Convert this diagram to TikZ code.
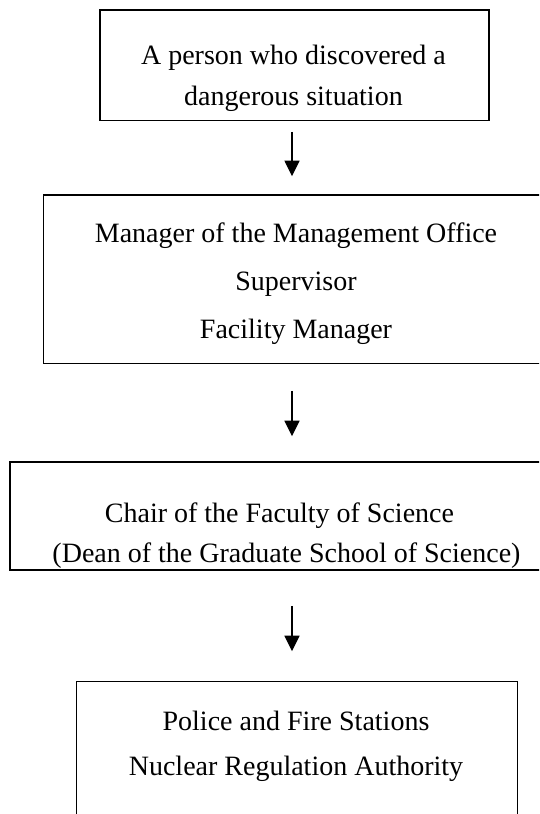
\documentclass[tikz,border=0pt]{standalone}
\usepackage{fontspec}
\setmainfont{Liberation Serif}
\usetikzlibrary{arrows.meta}
\begin{document}
\begin{tikzpicture}[x=1pt, y=-1pt,
  frame/.style={draw=black, line width=1.6pt, rectangle, inner sep=0pt},
  boxtext/.style={align=center, inner sep=0pt, anchor=base,
                  font=\fontsize{28}{#1}\selectfont},
  flow/.style={draw=black, line width=1.3pt,
               -{Triangle[width=15pt, length=15.5pt]}}]
\useasboundingbox (0,0) rectangle (539,814);
\fill[white] (0,0) rectangle (539,814);
\clip (0,0) rectangle (539,814);

% the four stages of the report chain
\node[frame, minimum width=389pt, minimum height=110.5pt] (b1) at (294.2,65.2) {};
\node[frame, minimum width=505pt, minimum height=168.5pt] (b2) at (296,279.2) {};
\node[frame, minimum width=542pt, minimum height=108pt]   (b3) at (281,516) {};
\node[frame, minimum width=441pt, minimum height=158.5pt] (b4) at (296.8,760.75) {};

% texts of the stages (anchored on the baseline of their last line)
\node[boxtext=41] (t1) at (293.5,105.5)
  {A person who discovered a\\dangerous situation};
\node[boxtext=48] (t2) at (296,338)
  {Manager of the Management Office\\Supervisor\\Facility Manager};
\node[boxtext=40] (t3) at (283,562)
  {Chair of the Faculty of Science\kern7pt\\\kern7pt(Dean of the Graduate School of Science)};
\node[boxtext=45] (t4) at (296,775)
  {Police and Fire Stations\\Nuclear Regulation Authority};

% arrows between the stages
\coordinate (ax) at (292,0);
\draw[flow, shorten <=10.5pt, shorten >=18pt]   (b1.south -| ax) -- (b2.north -| ax);
\draw[flow, shorten <=26.5pt, shorten >=25pt]   (b2.south -| ax) -- (b3.north -| ax);
\draw[flow, shorten <=35pt,   shorten >=29.5pt] (b3.south -| ax) -- (b4.north -| ax);
\end{tikzpicture}
\end{document}
